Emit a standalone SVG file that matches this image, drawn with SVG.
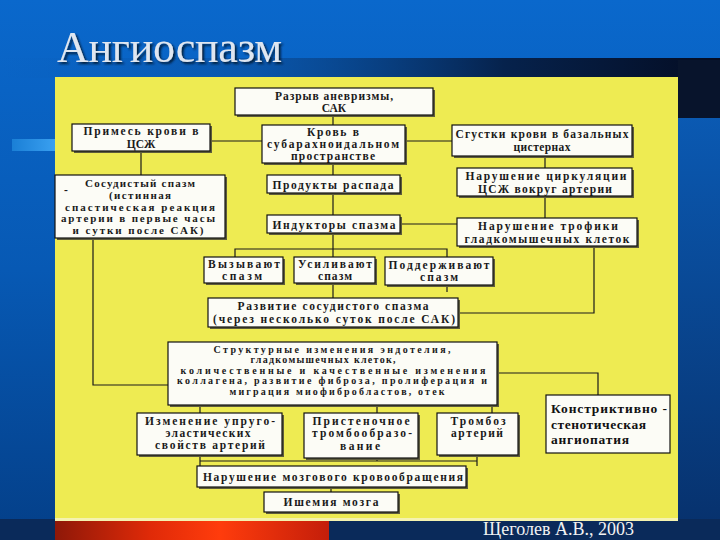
<svg xmlns="http://www.w3.org/2000/svg" width="720" height="540" viewBox="0 0 720 540">
<defs>
<linearGradient id="bg" x1="0" y1="0" x2="0" y2="1">
<stop offset="0" stop-color="#0a68cc"/>
<stop offset="0.5" stop-color="#0759b4"/>
<stop offset="1" stop-color="#043f88"/>
</linearGradient>
<linearGradient id="band" x1="0" y1="0" x2="1" y2="0">
<stop offset="0" stop-color="#0a5cb8" stop-opacity="0"/>
<stop offset="0.35" stop-color="#0a4c98" stop-opacity="0.6"/>
<stop offset="0.7" stop-color="#06224c"/>
<stop offset="1" stop-color="#040c22"/>
</linearGradient>
<linearGradient id="rightstrip" x1="0" y1="0" x2="0" y2="1">
<stop offset="0" stop-color="#0b5fbc"/>
<stop offset="1" stop-color="#07326e"/>
</linearGradient>
<linearGradient id="lbar" x1="0" y1="0" x2="1" y2="0">
<stop offset="0" stop-color="#1a7fd6"/>
<stop offset="1" stop-color="#3aa0f0"/>
</linearGradient>
<linearGradient id="red" x1="0" y1="0" x2="1" y2="0">
<stop offset="0" stop-color="#8e1808"/>
<stop offset="0.35" stop-color="#e02a08"/>
<stop offset="0.6" stop-color="#ff3c0c"/>
<stop offset="1" stop-color="#c41e0a"/>
</linearGradient>
<filter id="ds" x="-5%" y="-20%" width="115%" height="150%">
<feDropShadow dx="2" dy="2" stdDeviation="1" flood-color="#01152e" flood-opacity="0.9"/>
</filter>
<style>
.box{fill:#fcfcf6;stroke:#111;stroke-width:1.2}
.sh{fill:#5e5c3c}
.t{font-family:"Liberation Serif","Times New Roman",serif;font-size:11.5px;font-weight:bold;fill:#1a1a1a;text-anchor:middle}
.m{font-size:11px}
.s{font-size:10px}
.tb{font-family:"Liberation Serif","Times New Roman",serif;font-size:13.5px;font-weight:bold;fill:#111}
.c{stroke:#1a1a1a;stroke-width:1.2;fill:none}
</style>
</defs>

<!-- background -->
<rect x="0" y="0" width="720" height="540" fill="url(#bg)"/>
<rect x="0" y="58" width="720" height="20" fill="url(#band)"/>
<rect x="678" y="60" width="42" height="460" fill="url(#rightstrip)"/>
<rect x="678" y="60" width="42" height="58" fill="#08142c"/>
<rect x="12" y="139" width="43" height="12" fill="url(#lbar)"/>
<rect x="0" y="519" width="720" height="21" fill="#0a2a5a"/>
<rect x="55" y="521" width="274" height="19" fill="url(#red)"/>

<text x="57" y="62" font-family="Liberation Serif, Times New Roman, serif" font-size="44" fill="#dfe6f0" textLength="225" filter="url(#ds)">Ангиоспазм</text>

<!-- panel -->
<rect x="55" y="77" width="623" height="441" fill="#eeeb52"/>
<rect x="55" y="518" width="623" height="3" fill="#f4f2b0"/>

<!-- connectors -->
<g id="connectors" class="c">
<path d="M333 115V125"/>
<path d="M210 141H262"/>
<path d="M405 141H452"/>
<path d="M141 151V175"/>
<path d="M333 163V175"/>
<path d="M333 193V215"/>
<path d="M545 156V168"/>
<path d="M545 196V218"/>
<path d="M400 224H457"/>
<path d="M333 233V257"/>
<path d="M235 257V249H447V257"/>
<path d="M333 283V298"/>
<path d="M447 285V292"/>
<path d="M594 246V313H458"/>
<path d="M93 238V385H168"/>
<path d="M497 373H598V395"/>
<path d="M200 405V413"/>
<path d="M377 405V413"/>
<path d="M492 405V413"/>
<path d="M200 455V466"/>
<path d="M377 458V461"/>
<path d="M477 455V466"/>
<path d="M200 461H477"/>
<path d="M331 487V492"/>
</g>

<g id="n1">
<rect class="sh" x="237" y="90" width="198" height="27"/>
<rect class="box" x="235" y="88" width="198" height="27"/>
<text class="t" x="334" y="99.5" textLength="118">Разрыв аневризмы,</text>
<text class="t" x="334" y="111.5">САК</text>
</g>

<g id="n2">
<rect class="sh" x="74" y="126" width="138" height="27"/>
<rect class="box" x="72" y="124" width="138" height="27"/>
<text class="t" x="141" y="135" textLength="115">Примесь крови в</text>
<text class="t" x="141" y="147.5">ЦСЖ</text>
</g>

<g id="n3">
<rect class="sh" x="264" y="127" width="143" height="38"/>
<rect class="box" x="262" y="125" width="143" height="38"/>
<text class="t" x="333" y="135.5" textLength="52">Кровь в</text>
<text class="t" x="333" y="147.5" textLength="132">субарахноидальном</text>
<text class="t" x="333" y="159.5" textLength="84">пространстве</text>
</g>

<g id="n4">
<rect class="sh" x="454" y="127" width="180" height="31"/>
<rect class="box" x="452" y="125" width="180" height="31"/>
<text class="t" x="542" y="138" textLength="173">Сгустки крови в базальных</text>
<text class="t" x="542" y="151" textLength="57">цистернах</text>
</g>

<g id="n5">
<rect class="sh" x="57" y="177" width="170" height="63"/>
<rect class="box" x="55" y="175" width="170" height="63"/>
<text class="t m" x="140" y="187" textLength="110">Сосудистый спазм</text>
<text class="t" x="66" y="194" font-size="7">-</text>
<text class="t m" x="140" y="199" textLength="62">(истинная</text>
<text class="t m" x="140" y="210.5" textLength="150">спастическая реакция</text>
<text class="t m" x="138" y="222" textLength="154">артерии в первые часы</text>
<text class="t m" x="138" y="233.5" textLength="131">и сутки после САК)</text>
</g>

<g id="n6">
<rect class="sh" x="269" y="177" width="133" height="18"/>
<rect class="box" x="267" y="175" width="133" height="18"/>
<text class="t" x="333" y="188.5" textLength="121">Продукты распада</text>
</g>

<g id="n7">
<rect class="sh" x="459" y="170" width="175" height="28"/>
<rect class="box" x="457" y="168" width="175" height="28"/>
<text class="t" x="546" y="180" textLength="161">Нарушение циркуляции</text>
<text class="t" x="545" y="193" textLength="134">ЦСЖ вокруг артерии</text>
</g>

<g id="n8">
<rect class="sh" x="269" y="217" width="133" height="18"/>
<rect class="box" x="267" y="215" width="133" height="18"/>
<text class="t" x="334" y="228.5" textLength="123">Индукторы спазма</text>
</g>

<g id="n9">
<rect class="sh" x="459" y="220" width="180" height="28"/>
<rect class="box" x="457" y="218" width="180" height="28"/>
<text class="t" x="548" y="230" textLength="140">Нарушение трофики</text>
<text class="t" x="547" y="242.5" textLength="165">гладкомышечных клеток</text>
</g>

<g id="n10">
<rect class="sh" x="206" y="259" width="79" height="26"/>
<rect class="box" x="204" y="257" width="79" height="26"/>
<text class="t" x="244" y="268" textLength="72">Вызывают</text>
<text class="t" x="242" y="280" textLength="40">спазм</text>
</g>

<g id="n11">
<rect class="sh" x="296" y="259" width="81" height="26"/>
<rect class="box" x="294" y="257" width="81" height="26"/>
<text class="t" x="335" y="268" textLength="74">Усиливают</text>
<text class="t" x="335" y="280" textLength="34">спазм</text>
</g>

<g id="n12">
<rect class="sh" x="387" y="259" width="108" height="28"/>
<rect class="box" x="385" y="257" width="108" height="28"/>
<text class="t" x="439" y="269" textLength="101">Поддерживают</text>
<text class="t" x="439" y="281" textLength="38">спазм</text>
</g>

<g id="n13">
<rect class="sh" x="210" y="300" width="250" height="29"/>
<rect class="box" x="208" y="298" width="250" height="29"/>
<text class="t" x="333" y="310" textLength="191">Развитие сосудистого спазма</text>
<text class="t" x="334" y="322.5" textLength="242">(через несколько суток после САК)</text>
</g>

<g id="n14">
<rect class="sh" x="170" y="344" width="329" height="63"/>
<rect class="box" x="168" y="342" width="329" height="63"/>
<text class="t s" x="332" y="352.5" textLength="237">Структурные изменения эндотелия,</text>
<text class="t s" x="323" y="363" textLength="145">гладкомышечных клеток,</text>
<text class="t s" x="333" y="373.5" textLength="305">количественные и качественные изменения</text>
<text class="t s" x="332" y="384" textLength="310">коллагена, развитие фиброза, пролиферация и</text>
<text class="t s" x="337" y="394.5" textLength="215">миграция миофибробластов, отек</text>
</g>

<g id="n15">
<rect class="sh" x="139" y="415" width="145" height="42"/>
<rect class="box" x="137" y="413" width="145" height="42"/>
<text class="t" x="210" y="425" textLength="130">Изменение упруго-</text>
<text class="t" x="208" y="437" textLength="85">эластических</text>
<text class="t" x="210" y="449" textLength="110">свойств артерий</text>
</g>

<g id="n16">
<rect class="sh" x="306" y="415" width="114" height="45"/>
<rect class="box" x="304" y="413" width="114" height="45"/>
<text class="t" x="361" y="425" textLength="97">Пристеночное</text>
<text class="t" x="362" y="437" textLength="100">тромбообразо-</text>
<text class="t" x="360" y="450" textLength="40">вание</text>
</g>

<g id="n17">
<rect class="sh" x="439" y="415" width="81" height="42"/>
<rect class="box" x="437" y="413" width="81" height="42"/>
<text class="t" x="478" y="425" textLength="55">Тромбоз</text>
<text class="t" x="477" y="437" textLength="52">артерий</text>
</g>

<g id="n18">
<rect class="box" x="546" y="395" width="124" height="58"/>
<text class="tb" x="551" y="413" textLength="116">Констриктивно -</text>
<text class="tb" x="551" y="428.5" textLength="95">стенотическая</text>
<text class="tb" x="551" y="444" textLength="78">ангиопатия</text>
</g>

<g id="n19">
<rect class="sh" x="199" y="468" width="269" height="21"/>
<rect class="box" x="197" y="466" width="269" height="21"/>
<text class="t" x="333" y="480.5" textLength="260">Нарушение мозгового кровообращения</text>
</g>

<g id="n20">
<rect class="sh" x="266" y="494" width="134" height="20"/>
<rect class="box" x="264" y="492" width="134" height="20"/>
<text class="t" x="331" y="506" textLength="95">Ишемия мозга</text>
</g>

<text x="483" y="535" font-family="Liberation Serif, Times New Roman, serif" font-size="18" fill="#f2f2f2" textLength="151">Щеголев А.В., 2003</text>
</svg>
